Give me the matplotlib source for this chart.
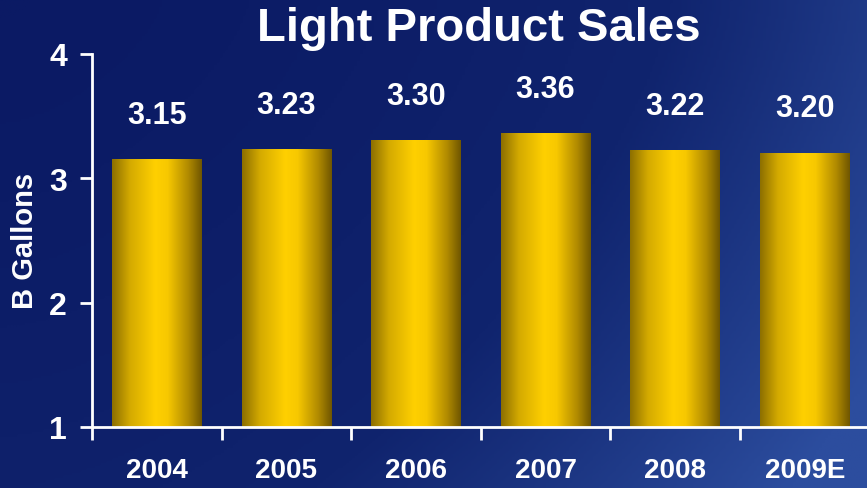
import numpy as np
import matplotlib
matplotlib.use("Agg")
import matplotlib.pyplot as plt
from matplotlib.colors import LinearSegmentedColormap

plt.rcParams["font.family"] = ["Liberation Sans", "DejaVu Sans"]
plt.rcParams["font.weight"] = "bold"

years = ["2004", "2005", "2006", "2007", "2008", "2009E"]
sales = [3.15, 3.23, 3.30, 3.36, 3.22, 3.20]
labels = ["3.15", "3.23", "3.30", "3.36", "3.22", "3.20"]

fig = plt.figure(figsize=(8.67, 4.89), dpi=100)

# background gradient (dark navy top-left -> lighter blue bottom-right)
bg = fig.add_axes([0, 0, 1, 1], zorder=0)
gx, gy = np.meshgrid(np.linspace(0, 1, 300), np.linspace(0, 1, 200))
t = np.clip(0.75 * gx ** 1.6 + 0.35 * gy ** 1.4, 0, 1)
bg_cmap = LinearSegmentedColormap.from_list("bg", ["#0b1a64", "#10246e", "#2c4d9e"])
bg.imshow(t, cmap=bg_cmap, aspect="auto", extent=[0, 1, 0, 1], origin="upper")
bg.axis("off")

ax = fig.add_axes([0.106, 0.125, 0.894, 0.763], zorder=1)
ax.patch.set_alpha(0)

x = np.arange(len(years))
width = 0.69
bars = ax.bar(x, sales, width=width, bottom=0, color="none", edgecolor="none")

# cylinder shading for the bars
bar_cmap = LinearSegmentedColormap.from_list(
    "gold", [(0.0, "#8c6f00"), (0.2, "#d4aa00"), (0.48, "#ffd000"),
             (0.62, "#f7c800"), (0.85, "#b08a00"), (1.0, "#6f5600")])
grad = np.linspace(0, 1, 256).reshape(1, -1)
for b in bars:
    x0 = b.get_x()
    ax.imshow(grad, cmap=bar_cmap, aspect="auto", zorder=2,
              extent=[x0, x0 + b.get_width(), 1, b.get_height()])

for xi, v, lab in zip(x, sales, labels):
    ax.text(xi, v + 0.36, lab, ha="center", va="center", color="white",
            fontsize=22, fontweight="bold")

ax.set_xlim(-0.5, 5.48)
ax.set_ylim(1, 4)
ax.set_yticks([1, 2, 3, 4])
ax.set_xticks(x)
ax.set_xticklabels(years)
ax.set_xticks(np.arange(-0.5, 5, 1), minor=True)

ax.tick_params(axis="x", which="major", length=0, pad=22, labelsize=20, labelcolor="white")
ax.tick_params(axis="x", which="minor", length=9, width=2, color="white", direction="out")
ax.tick_params(axis="y", length=9, width=2, color="white", pad=9,
               labelsize=23, labelcolor="white")
for lab in ax.get_xticklabels() + ax.get_yticklabels():
    lab.set_fontweight("bold")

for s in ["top", "right"]:
    ax.spines[s].set_visible(False)
for s in ["left", "bottom"]:
    ax.spines[s].set_color("white")
    ax.spines[s].set_linewidth(2)

ax.set_ylabel("B Gallons", color="white", fontsize=21, fontweight="bold")
ax.yaxis.set_label_coords(-0.068, 0.5)

fig.text(0.552, 0.94, "Light Product Sales", ha="center", va="center",
         color="white", fontsize=34, fontweight="bold")

fig.savefig("out.png", dpi=100)
